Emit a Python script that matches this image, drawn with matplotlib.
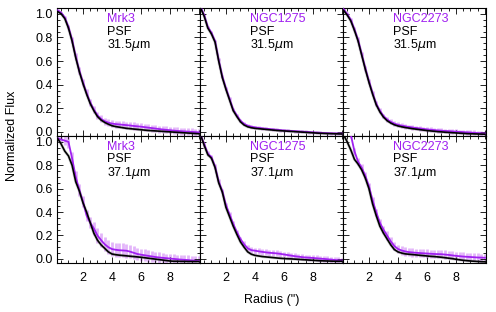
import numpy as np
import matplotlib
matplotlib.use("Agg")
import matplotlib.pyplot as plt
from matplotlib.ticker import MultipleLocator

plt.rcParams['font.family'] = ['Liberation Sans', 'DejaVu Sans']
plt.rcParams['mathtext.fontset'] = 'dejavusans'

# radius grid (arcsec)
radius = [0.25, 0.5, 0.75, 1.0, 1.25, 1.5, 1.75, 2.0, 2.25, 2.5,
          2.75, 3.0, 3.25, 3.5, 3.75, 4.0, 4.25, 4.5, 4.75, 5.0,
          5.25, 5.5, 5.75, 6.0, 6.25, 6.5, 6.75, 7.0, 7.25, 7.5,
          7.75, 8.0, 8.25, 8.5, 8.75, 9.0, 9.25, 9.5, 9.75, 10.0]

galaxies = ['Mrk3', 'NGC1275', 'NGC2273', 'Mrk3', 'NGC1275', 'NGC2273']
bands = ['31.5', '31.5', '31.5', '37.1', '37.1', '37.1']

# Mrk3 31.5um
psf_mrk3_31 = [1.02, 1.00, 0.96, 0.88, 0.77, 0.63, 0.51, 0.41, 0.32, 0.24,
               0.18, 0.13, 0.10, 0.08, 0.065, 0.052, 0.045, 0.04, 0.035, 0.03,
               0.027, 0.024, 0.021, 0.018, 0.015, 0.012, 0.01, 0.008, 0.006, 0.004,
               0.002, 0.0, -0.002, -0.004, -0.006, -0.008, -0.01, -0.012, -0.014, -0.016]
src_mrk3_31 = [1.03, 1.01, 0.97, 0.89, 0.78, 0.64, 0.52, 0.42, 0.33, 0.25,
               0.19, 0.14, 0.11, 0.09, 0.078, 0.07, 0.066, 0.063, 0.06, 0.057,
               0.054, 0.05, 0.047, 0.044, 0.04, 0.036, 0.032, 0.028, 0.024, 0.02,
               0.017, 0.014, 0.011, 0.008, 0.006, 0.004, 0.002, 0.0, -0.002, -0.004]
err_mrk3_31 = [0.01, 0.01, 0.015, 0.02, 0.025, 0.03, 0.03, 0.03, 0.03, 0.03,
               0.03, 0.03, 0.03, 0.03, 0.03, 0.03, 0.03, 0.03, 0.03, 0.03,
               0.03, 0.03, 0.03, 0.03, 0.03, 0.03, 0.03, 0.03, 0.03, 0.03,
               0.03, 0.03, 0.03, 0.03, 0.03, 0.03, 0.03, 0.03, 0.03, 0.03]

# NGC1275 31.5um
psf_n1275_31 = [1.05, 0.98, 0.88, 0.83, 0.76, 0.60, 0.46, 0.36, 0.27, 0.18,
                0.13, 0.085, 0.058, 0.043, 0.035, 0.03, 0.027, 0.024, 0.021, 0.018,
                0.015, 0.012, 0.01, 0.008, 0.006, 0.004, 0.002, 0.0, -0.002, -0.004,
                -0.006, -0.008, -0.01, -0.012, -0.013, -0.014, -0.015, -0.016, -0.017, -0.018]
src_n1275_31 = [1.06, 0.99, 0.89, 0.84, 0.77, 0.61, 0.47, 0.37, 0.28, 0.19,
                0.14, 0.095, 0.068, 0.052, 0.044, 0.038, 0.034, 0.03, 0.027, 0.024,
                0.021, 0.018, 0.015, 0.012, 0.01, 0.008, 0.006, 0.004, 0.002, 0.0,
                -0.002, -0.004, -0.006, -0.008, -0.01, -0.011, -0.012, -0.013, -0.014, -0.015]
err_n1275_31 = [0.01, 0.01, 0.01, 0.012, 0.012, 0.012, 0.012, 0.012, 0.012, 0.012,
                0.012, 0.012, 0.012, 0.012, 0.012, 0.012, 0.012, 0.012, 0.012, 0.012,
                0.012, 0.012, 0.012, 0.012, 0.012, 0.012, 0.012, 0.012, 0.012, 0.012,
                0.012, 0.012, 0.012, 0.012, 0.012, 0.012, 0.012, 0.012, 0.012, 0.012]

# NGC2273 31.5um
psf_n2273_31 = [1.03, 0.99, 0.94, 0.86, 0.77, 0.65, 0.53, 0.42, 0.32, 0.23,
                0.17, 0.125, 0.095, 0.075, 0.06, 0.05, 0.043, 0.037, 0.032, 0.027,
                0.023, 0.019, 0.015, 0.011, 0.008, 0.005, 0.002, 0.0, -0.003, -0.005,
                -0.007, -0.009, -0.011, -0.013, -0.015, -0.016, -0.017, -0.018, -0.019, -0.02]
src_n2273_31 = [1.04, 1.0, 0.95, 0.87, 0.78, 0.66, 0.54, 0.43, 0.33, 0.24,
                0.18, 0.135, 0.105, 0.085, 0.07, 0.06, 0.053, 0.047, 0.042, 0.037,
                0.033, 0.029, 0.025, 0.021, 0.018, 0.015, 0.012, 0.01, 0.008, 0.006,
                0.004, 0.002, 0.0, -0.002, -0.004, -0.006, -0.008, -0.01, -0.012, -0.014]
err_n2273_31 = [0.01, 0.012, 0.015, 0.018, 0.02, 0.02, 0.02, 0.02, 0.02, 0.02,
                0.02, 0.02, 0.02, 0.02, 0.02, 0.02, 0.02, 0.02, 0.02, 0.02,
                0.02, 0.02, 0.02, 0.02, 0.02, 0.02, 0.02, 0.02, 0.02, 0.02,
                0.02, 0.02, 0.02, 0.02, 0.02, 0.02, 0.02, 0.02, 0.02, 0.02]

# Mrk3 37.1um
psf_mrk3_37 = [1.03, 0.98, 0.92, 0.88, 0.80, 0.66, 0.58, 0.48, 0.40, 0.31,
               0.22, 0.16, 0.12, 0.09, 0.06, 0.042, 0.036, 0.032, 0.029, 0.026,
               0.023, 0.02, 0.017, 0.014, 0.01, 0.006, 0.002, -0.002, -0.006, -0.01,
               -0.014, -0.018, -0.02, -0.02, -0.021, -0.021, -0.022, -0.022, -0.022, -0.022]
src_mrk3_37 = [1.03, 1.02, 1.01, 1.0, 0.86, 0.70, 0.59, 0.49, 0.37, 0.31,
               0.26, 0.20, 0.16, 0.125, 0.10, 0.084, 0.078, 0.074, 0.072, 0.07,
               0.062, 0.052, 0.042, 0.036, 0.031, 0.026, 0.021, 0.016, 0.012, 0.009,
               0.006, 0.003, 0.0, -0.003, -0.006, -0.008, -0.01, -0.013, -0.016, -0.019]
err_mrk3_37 = [0.02, 0.03, 0.04, 0.05, 0.05, 0.05, 0.05, 0.05, 0.05, 0.05,
               0.055, 0.06, 0.06, 0.06, 0.06, 0.06, 0.06, 0.06, 0.06, 0.06,
               0.055, 0.055, 0.05, 0.05, 0.05, 0.05, 0.045, 0.045, 0.045, 0.045,
               0.04, 0.04, 0.04, 0.04, 0.04, 0.04, 0.04, 0.04, 0.04, 0.04]

# NGC1275 37.1um
psf_n1275_37 = [1.06, 0.97, 0.89, 0.86, 0.78, 0.65, 0.57, 0.44, 0.36, 0.28,
                0.21, 0.145, 0.10, 0.06, 0.04, 0.03, 0.025, 0.02, 0.017, 0.014,
                0.011, 0.008, 0.005, 0.003, 0.001, 0.0, -0.002, -0.004, -0.006, -0.008,
                -0.01, -0.012, -0.014, -0.016, -0.017, -0.018, -0.019, -0.02, -0.02, -0.02]
src_n1275_37 = [1.06, 0.98, 0.90, 0.87, 0.79, 0.66, 0.58, 0.46, 0.38, 0.30,
                0.23, 0.17, 0.125, 0.09, 0.075, 0.07, 0.065, 0.06, 0.056, 0.052,
                0.05, 0.047, 0.043, 0.038, 0.033, 0.028, 0.023, 0.019, 0.015, 0.012,
                0.01, 0.008, 0.005, 0.002, 0.0, -0.003, -0.006, -0.009, -0.012, -0.014]
err_n1275_37 = [0.015, 0.02, 0.02, 0.02, 0.02, 0.02, 0.02, 0.02, 0.02, 0.02,
                0.02, 0.02, 0.025, 0.025, 0.025, 0.025, 0.025, 0.025, 0.025, 0.025,
                0.025, 0.025, 0.025, 0.025, 0.025, 0.025, 0.025, 0.025, 0.025, 0.025,
                0.025, 0.025, 0.025, 0.025, 0.025, 0.025, 0.025, 0.025, 0.025, 0.025]

# NGC2273 37.1um
psf_n2273_37 = [1.06, 1.0, 0.93, 0.85, 0.81, 0.76, 0.69, 0.60, 0.47, 0.37,
                0.28, 0.22, 0.17, 0.12, 0.08, 0.06, 0.05, 0.043, 0.04, 0.037,
                0.034, 0.031, 0.028, 0.025, 0.022, 0.02, 0.017, 0.014, 0.01, 0.006,
                0.002, -0.003, -0.008, -0.012, -0.015, -0.018, -0.02, -0.022, -0.024, -0.025]
src_n2273_37 = [1.08, 1.07, 1.06, 0.92, 0.83, 0.78, 0.71, 0.62, 0.50, 0.40,
                0.31, 0.25, 0.20, 0.15, 0.11, 0.085, 0.072, 0.064, 0.058, 0.055,
                0.052, 0.05, 0.048, 0.046, 0.044, 0.042, 0.041, 0.04, 0.037, 0.034,
                0.03, 0.026, 0.023, 0.02, 0.018, 0.016, 0.014, 0.012, 0.011, 0.01]
err_n2273_37 = [0.02, 0.02, 0.025, 0.03, 0.03, 0.03, 0.03, 0.03, 0.03, 0.03,
                0.03, 0.03, 0.035, 0.035, 0.035, 0.035, 0.035, 0.035, 0.035, 0.035,
                0.035, 0.035, 0.035, 0.035, 0.035, 0.035, 0.035, 0.035, 0.035, 0.035,
                0.035, 0.035, 0.035, 0.035, 0.035, 0.035, 0.035, 0.035, 0.035, 0.035]

psfs = [psf_mrk3_31, psf_n1275_31, psf_n2273_31, psf_mrk3_37, psf_n1275_37, psf_n2273_37]
srcs = [src_mrk3_31, src_n1275_31, src_n2273_31, src_mrk3_37, src_n1275_37, src_n2273_37]
errs = [err_mrk3_31, err_n1275_31, err_n2273_31, err_mrk3_37, err_n1275_37, err_n2273_37]

purple = '#A020F0'
light = '#E3B5FA'

fig = plt.figure(figsize=(4.96, 3.12), dpi=100)
W, H = 496.0, 312.0
lefts = [57, 200, 343]
rows = [(8, 136), (136, 263)]

r = np.array(radius)
for k in range(6):
    row, col = divmod(k, 3)
    top, bot = rows[row]
    ax = fig.add_axes([lefts[col] / W, 1 - bot / H, 143 / W, (bot - top) / H])
    src = np.array(srcs[k])
    err = np.array(errs[k])
    ax.vlines(r, src - err, src + err, color=light, lw=2.0, zorder=1)
    ax.plot(r, psfs[k], color='#888888', lw=2.2, alpha=0.35, zorder=2)
    ax.plot(r, src, color=purple, lw=1.3, zorder=3)
    ax.plot(r, psfs[k], color='black', lw=1.2, zorder=4)

    ax.set_xlim(0.21, 10.07)
    ax.set_ylim(-0.035, 1.05)
    ax.xaxis.set_major_locator(MultipleLocator(2))
    ax.xaxis.set_minor_locator(MultipleLocator(0.5))
    ax.yaxis.set_major_locator(MultipleLocator(0.2))
    ax.yaxis.set_minor_locator(MultipleLocator(0.05))
    ax.tick_params(which='both', direction='in', top=True, right=True,
                   width=0.6, labelsize=9, pad=3)
    ax.tick_params(axis='x', which='both', pad=6.5)
    ax.tick_params(which='major', length=4)
    ax.tick_params(which='minor', length=2)
    for s in ax.spines.values():
        s.set_linewidth(0.8)

    if col == 0:
        ax.set_yticks([0.0, 0.2, 0.4, 0.6, 0.8, 1.0])
        ax.set_yticklabels(['0.0', '0.2', '0.4', '0.6', '0.8', '1.0'])
    else:
        ax.set_yticklabels([])
    if row == 1:
        ax.set_xticks([2, 4, 6, 8])
        ax.set_xticklabels(['2', '4', '6', '8'])
    else:
        ax.set_xticklabels([])

    ax.text(0.35, 0.915, galaxies[k], transform=ax.transAxes, color=purple,
            fontsize=9, va='center', ha='left')
    ax.text(0.35, 0.815, 'PSF', transform=ax.transAxes, color='black',
            fontsize=9, va='center', ha='left')
    ax.text(0.35, 0.71, bands[k] + r'$\mu$m', transform=ax.transAxes,
            color='black', fontsize=9, va='center', ha='left')

fig.text(12 / W, 1 - 136 / H, 'Normalized Flux', rotation=90,
         ha='center', va='center', fontsize=9)
fig.text(272 / W, 1 - 300 / H, 'Radius (")', ha='center', va='center',
         fontsize=9)

fig.savefig('out.png', dpi=100)
